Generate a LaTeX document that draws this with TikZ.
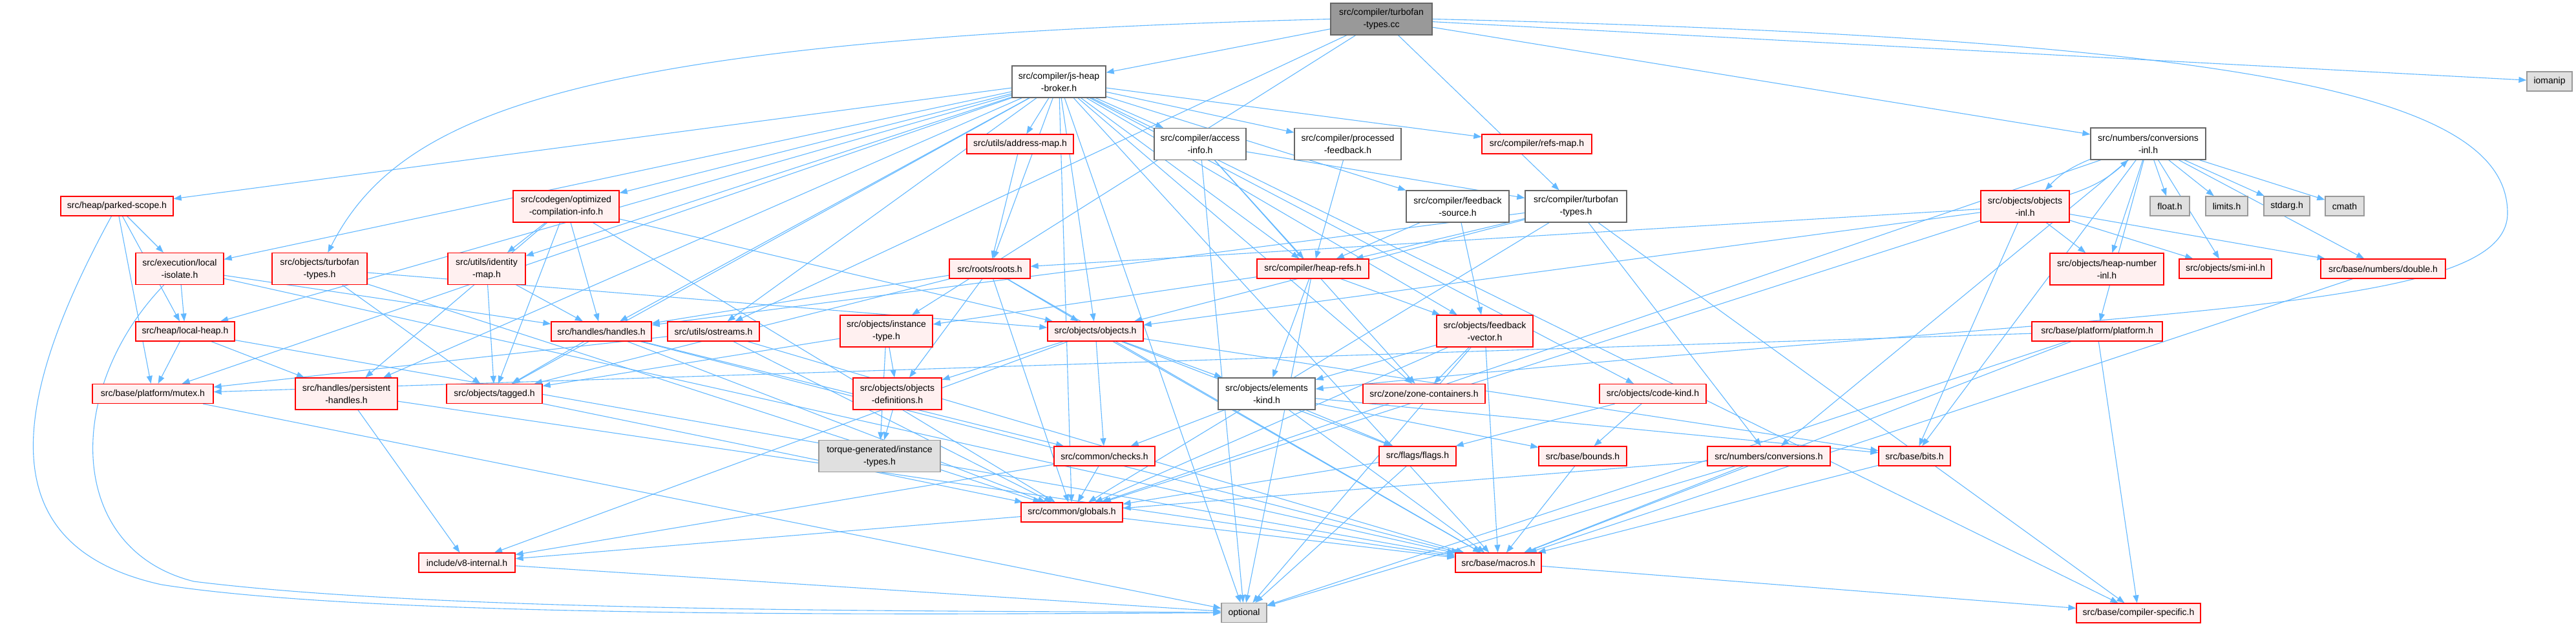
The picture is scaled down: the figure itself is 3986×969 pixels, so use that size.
\documentclass[tikz,border=0pt]{standalone}
\usepackage{fontspec}
\setmainfont{Liberation Sans}
\usetikzlibrary{arrows.meta}
\pgfdeclarelayer{bg}
\pgfsetlayers{bg,main}
\definecolor{edgeblue}{HTML}{63B8FF}
\definecolor{redfill}{HTML}{FFF0F0}
\definecolor{grayfill}{HTML}{E0E0E0}
\definecolor{rootfill}{HTML}{999999}
\definecolor{grey40}{HTML}{666666}
\definecolor{grey60}{HTML}{999999}
\newcommand\gn[7]{\node[#6, minimum width=#4pt, minimum height=#5pt] (#1) at (#2,#3) {#7};}
\begin{document}
\begin{tikzpicture}[x=1pt,y=-1pt,
  box/.style={rectangle, inner sep=0pt, align=center, line width=1.3pt, font=\fontsize{14}{19}\selectfont},
  rbox/.style={box, draw=red, fill=redfill},
  wbox/.style={box, draw=grey40, fill=white},
  gbox/.style={box, draw=grey60, fill=grayfill},
  cbox/.style={box, draw=grey40, fill=rootfill},
  edge/.style={draw=edgeblue, line width=1.1pt, -{Triangle[length=12pt,width=9pt]}}]
\useasboundingbox (0,0) rectangle (3986,969);
\gn{tcc}{2137.5}{29.5}{157}{49}{cbox}{src/compiler/turbofan\\-types.cc}
\gn{jsheap}{1638.5}{126.5}{145}{49}{wbox}{src/compiler/js-heap\\-broker.h}
\gn{iomanip}{3945}{126}{70}{30}{gbox}{iomanip}
\gn{numconvinl}{3324}{222.5}{178}{49}{wbox}{src/numbers/conversions\\-inl.h}
\gn{parked}{181}{319}{174}{30}{rbox}{src/heap/parked-scope.h}
\gn{optinfo}{876}{319.5}{164}{49}{rbox}{src/codegen/optimized\\-compilation-info.h}
\gn{localisolate}{278}{416}{136}{49}{rbox}{src/execution/local\\-isolate.h}
\gn{objturbofan}{494.5}{416}{147}{49}{rbox}{src/objects/turbofan\\-types.h}
\gn{identitymap}{753}{416}{120}{49}{rbox}{src/utils/identity\\-map.h}
\gn{addressmap}{1578.5}{223}{165}{30}{rbox}{src/utils/address-map.h}
\gn{accessinfo}{1857}{223}{142}{49}{wbox}{src/compiler/access\\-info.h}
\gn{roots}{1531.5}{416}{125}{30}{rbox}{src/roots/roots.h}
\gn{processed}{2085.5}{223}{165}{49}{wbox}{src/compiler/processed\\-feedback.h}
\gn{refsmap}{2378}{223}{170}{30}{rbox}{src/compiler/refs-map.h}
\gn{fbsource}{2255.5}{319.5}{159}{49}{wbox}{src/compiler/feedback\\-source.h}
\gn{tftypes}{2438.5}{319.5}{157}{49}{wbox}{src/compiler/turbofan\\-types.h}
\gn{heaprefs}{2031.5}{416}{173}{30}{rbox}{src/compiler/heap-refs.h}
\gn{fbvector}{2297.5}{512.5}{149}{49}{rbox}{src/objects/feedback\\-vector.h}
\gn{objinl}{3133.5}{319.5}{137}{49}{rbox}{src/objects/objects\\-inl.h}
\gn{float}{3357.5}{319}{61}{30}{gbox}{float.h}
\gn{limits}{3445.5}{319}{65}{30}{gbox}{limits.h}
\gn{stdarg}{3538.5}{319}{71}{30}{gbox}{stdarg.h}
\gn{cmath}{3628}{319}{60}{30}{gbox}{cmath}
\gn{heapnumber}{3260}{416.5}{176}{49}{rbox}{src/objects/heap-number\\-inl.h}
\gn{smiinl}{3443.5}{416}{143}{30}{rbox}{src/objects/smi-inl.h}
\gn{double}{3687.5}{416}{193}{30}{rbox}{src/base/numbers/double.h}
\gn{platform}{3245}{513}{202}{30}{rbox}{src/base/platform/platform.h}
\gn{compilerspec}{3309}{949}{192}{30}{rbox}{src/base/compiler-specific.h}
\gn{localheap}{286.5}{513}{153}{30}{rbox}{src/heap/local-heap.h}
\gn{mutex}{236.5}{609.5}{187}{30}{rbox}{src/base/platform/mutex.h}
\gn{persistent}{536}{609.5}{158}{49}{rbox}{src/handles/persistent\\-handles.h}
\gn{tagged}{765}{609.5}{148}{30}{rbox}{src/objects/tagged.h}
\gn{handles}{930.5}{513}{155}{30}{rbox}{src/handles/handles.h}
\gn{v8internal}{722.5}{871}{149}{30}{rbox}{include/v8-internal.h}
\gn{ostreams}{1104}{513}{142}{30}{rbox}{src/utils/ostreams.h}
\gn{instancetype}{1371.5}{512.5}{143}{49}{rbox}{src/objects/instance\\-type.h}
\gn{objects}{1695}{513}{148}{30}{rbox}{src/objects/objects.h}
\gn{objdefs}{1388.5}{609.5}{137}{49}{rbox}{src/objects/objects\\-definitions.h}
\gn{torque}{1361}{706}{188}{49}{gbox}{torque-generated/instance\\-types.h}
\gn{checks}{1709}{706}{156}{30}{rbox}{src/common/checks.h}
\gn{globals}{1658.5}{793}{157}{30}{rbox}{src/common/globals.h}
\gn{optional}{1925}{948.5}{70}{30}{gbox}{optional}
\gn{elementskind}{1960}{609.5}{150}{49}{wbox}{src/objects/elements\\-kind.h}
\gn{zonecontainers}{2203.5}{609.5}{189}{30}{rbox}{src/zone/zone-containers.h}
\gn{codekind}{2557.5}{609.5}{165}{30}{rbox}{src/objects/code-kind.h}
\gn{flags}{2193.5}{706}{119}{30}{rbox}{src/flags/flags.h}
\gn{bounds}{2449}{706}{136}{30}{rbox}{src/base/bounds.h}
\gn{numconv}{2737}{706}{190}{30}{rbox}{src/numbers/conversions.h}
\gn{bits}{2962.5}{706}{111}{30}{rbox}{src/base/bits.h}
\gn{macros}{2318.5}{871}{133}{30}{rbox}{src/base/macros.h}
\begin{pgfonlayer}{bg}
\foreach \s/\t in {
 tcc/tftypes, tcc/iomanip, tcc/jsheap, tcc/numconvinl, tcc/instancetype, tcc/ostreams,
 jsheap/parked, jsheap/optinfo, jsheap/localisolate, jsheap/identitymap, jsheap/addressmap, jsheap/accessinfo, jsheap/roots,
 jsheap/processed, jsheap/refsmap, jsheap/fbsource, jsheap/heaprefs, jsheap/fbvector, jsheap/localheap, jsheap/mutex,
 jsheap/persistent, jsheap/tagged, jsheap/handles, jsheap/ostreams, jsheap/objects, jsheap/codekind, jsheap/zonecontainers,
 jsheap/macros, jsheap/optional, jsheap/globals, jsheap/compilerspec,
 parked/localisolate, parked/localheap, parked/mutex,
 localisolate/localheap, localisolate/handles, localisolate/macros,
 objturbofan/objects, objturbofan/tagged, objturbofan/globals,
 identitymap/handles, identitymap/tagged,
 optinfo/identitymap, optinfo/handles, optinfo/persistent, optinfo/tagged, optinfo/globals, optinfo/objects,
 addressmap/roots,
 roots/tagged, roots/handles, roots/objdefs, roots/objects, roots/globals, roots/macros,
 processed/heaprefs,
 accessinfo/heaprefs, accessinfo/tftypes, accessinfo/optional, accessinfo/zonecontainers,
 fbsource/heaprefs, fbsource/fbvector,
 tftypes/heaprefs, tftypes/handles, tftypes/objects, tftypes/globals, tftypes/numconv, tftypes/compilerspec,
 heaprefs/elementskind, heaprefs/fbvector, heaprefs/instancetype, heaprefs/optional,
 fbvector/zonecontainers, fbvector/elementskind, fbvector/macros, fbvector/globals, fbvector/optional,
 objects/objdefs, objects/checks, objects/v8internal, objects/elementskind, objects/bits, objects/flags, objects/macros,
 instancetype/objdefs, instancetype/torque, instancetype/tagged,
 objdefs/torque,
 checks/globals, checks/v8internal,
 elementskind/checks, elementskind/flags, elementskind/bounds, elementskind/bits, elementskind/macros,
 codekind/flags, codekind/bounds,
 flags/globals, flags/optional,
 bounds/macros,
 numconv/globals, numconv/macros, numconv/optional,
 bits/macros,
 globals/macros, globals/v8internal,
 macros/compilerspec,
 v8internal/optional,
 mutex/optional,
 localheap/mutex, localheap/persistent, localheap/macros,
 persistent/v8internal, persistent/macros,
 tagged/globals,
 handles/tagged, handles/checks, handles/globals, handles/macros,
 ostreams/mutex, ostreams/globals, ostreams/macros,
 platform/mutex, platform/compilerspec, platform/macros, platform/optional,
 numconvinl/float, numconvinl/limits, numconvinl/stdarg, numconvinl/cmath, numconvinl/heapnumber,
 numconvinl/smiinl, numconvinl/double, numconvinl/platform, numconvinl/bits, numconvinl/globals, numconvinl/numconv,
 objinl/heapnumber, objinl/smiinl, objinl/double, objinl/roots, objinl/objects, objinl/bits, objinl/globals,
 double/macros}
 {\draw[edge] (\s) -- (\t);}
\draw[edge] (numconvinl) to[bend right=12] (objinl);
\draw[edge] (objinl) to[bend right=12] (numconvinl);
\draw[edge] (tcc.west) .. controls (900,60) and (620,170) .. (objturbofan);
\draw[edge] (tcc.east) .. controls (3500,60) and (3880,150) .. (3880,330) .. controls (3880,490) and (3300,475) .. (elementskind);
\draw[edge] (parked) .. controls (0,650) and (0,850) .. (250,905) .. controls (600,960) and (1500,950) .. (optional);
\draw[edge] (localisolate) .. controls (100,600) and (100,850) .. (300,900) .. controls (700,950) and (1500,945) .. (optional);
\end{pgfonlayer}
\end{tikzpicture}
\end{document}
